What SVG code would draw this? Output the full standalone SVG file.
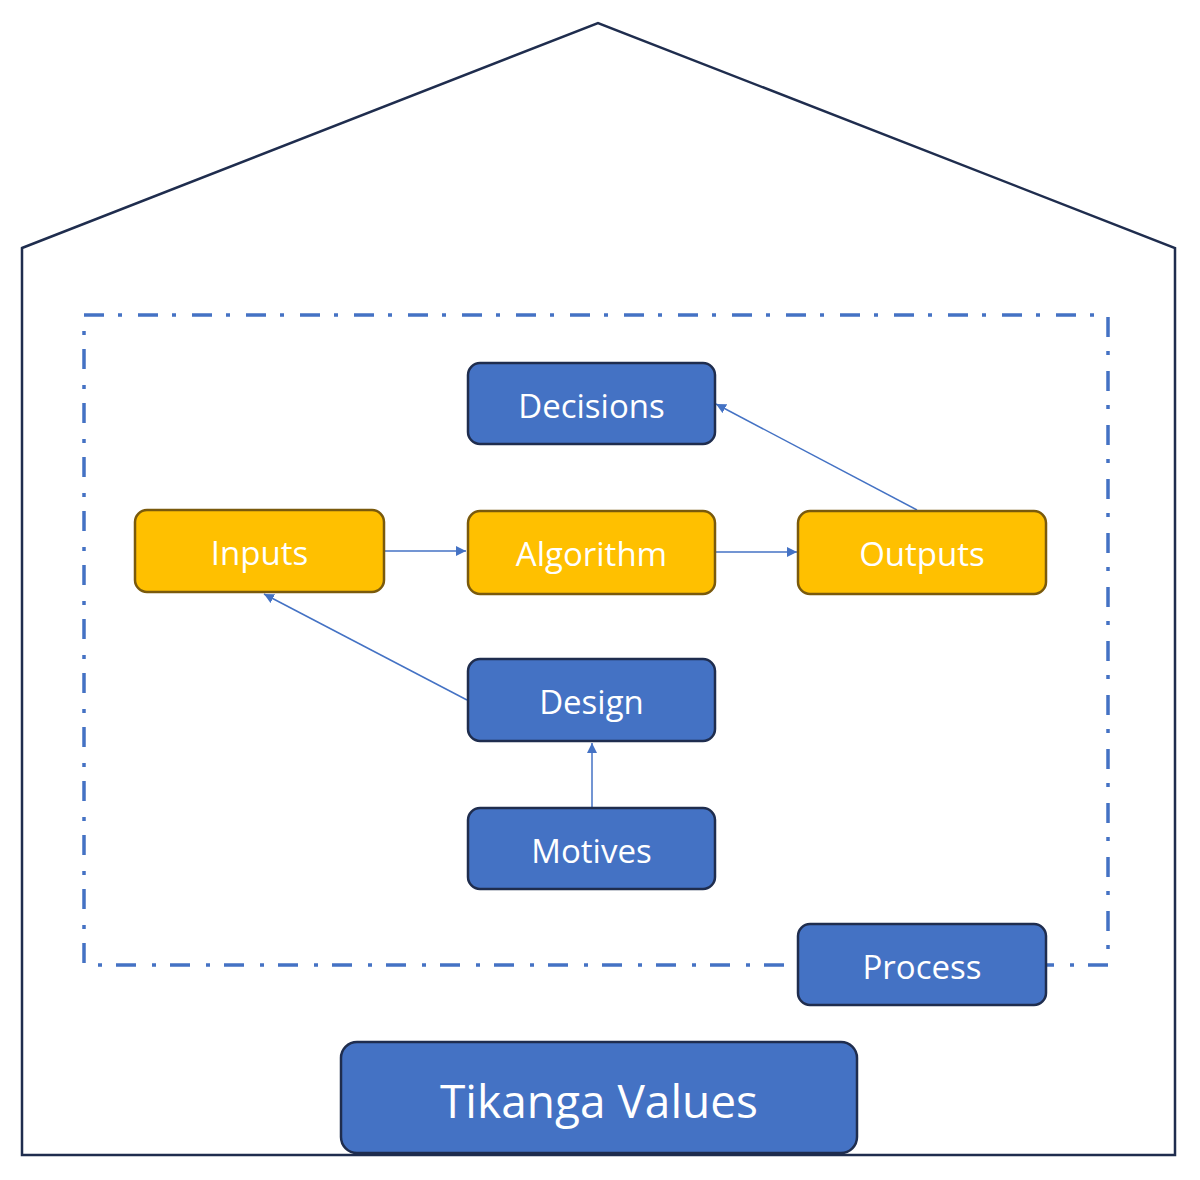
<svg xmlns="http://www.w3.org/2000/svg" width="1200" height="1180" viewBox="0 0 1200 1180">
<defs>
<style>
.blue{fill:#4472C4;stroke:#1F2D4E;stroke-width:2.5}
.gold{fill:#FFC000;stroke:#7A5A0C;stroke-width:2.5}
.lbl{font-family:"Open Sans","Noto Sans",sans-serif;font-size:33px;fill:#FFFFFF;text-anchor:middle;dominant-baseline:central}
.big{font-size:46px}
.conn{stroke:#4472C4;stroke-width:1.5;fill:none;marker-end:url(#ah)}
</style>
<marker id="ah" viewBox="0 0 10 10" refX="10" refY="5" markerWidth="10" markerHeight="10" markerUnits="userSpaceOnUse" orient="auto">
<path d="M0,0 L10,5 L0,10 z" fill="#4472C4"/>
</marker>
</defs>
<rect width="1200" height="1180" fill="#FFFFFF"/>
<g id="house">
<polygon points="22,248 598,23 1175,248 1175,1155 22,1155" fill="none" stroke="#1F2D4E" stroke-width="2.5"/>
</g>
<g id="boundary">
<rect x="84" y="315" width="1024" height="650" fill="none" stroke="#4472C4" stroke-width="3.5" stroke-dasharray="20 14 4 16"/>
</g>
<g id="connectors">
<line class="conn" x1="385" y1="551" x2="466" y2="551"/>
<line class="conn" x1="716" y1="552" x2="797" y2="552"/>
<line class="conn" x1="917" y1="510" x2="716" y2="404"/>
<line class="conn" x1="467" y1="700" x2="264" y2="594"/>
<line class="conn" x1="592" y1="808" x2="592" y2="743"/>
</g>
<g id="decisions"><rect class="blue" x="468" y="363" width="247" height="81" rx="12"/><text class="lbl" x="591.5" y="405">Decisions</text></g>
<g id="inputs"><rect class="gold" x="135" y="510" width="249" height="82" rx="12"/><text class="lbl" x="259.5" y="552">Inputs</text></g>
<g id="algorithm"><rect class="gold" x="468" y="511" width="247" height="83" rx="12"/><text class="lbl" x="591.5" y="553">Algorithm</text></g>
<g id="outputs"><rect class="gold" x="798" y="511" width="248" height="83" rx="12"/><text class="lbl" x="922" y="553">Outputs</text></g>
<g id="design"><rect class="blue" x="468" y="659" width="247" height="82" rx="12"/><text class="lbl" x="591.5" y="701">Design</text></g>
<g id="motives"><rect class="blue" x="468" y="808" width="247" height="81" rx="12"/><text class="lbl" x="591.5" y="850">Motives</text></g>
<g id="process"><rect class="blue" x="798" y="924" width="248" height="81" rx="12"/><text class="lbl" x="922" y="966">Process</text></g>
<g id="tikanga"><rect class="blue" x="341" y="1042" width="516" height="111" rx="16"/><text class="lbl big" x="599" y="1100">Tikanga Values</text></g>
</svg>
